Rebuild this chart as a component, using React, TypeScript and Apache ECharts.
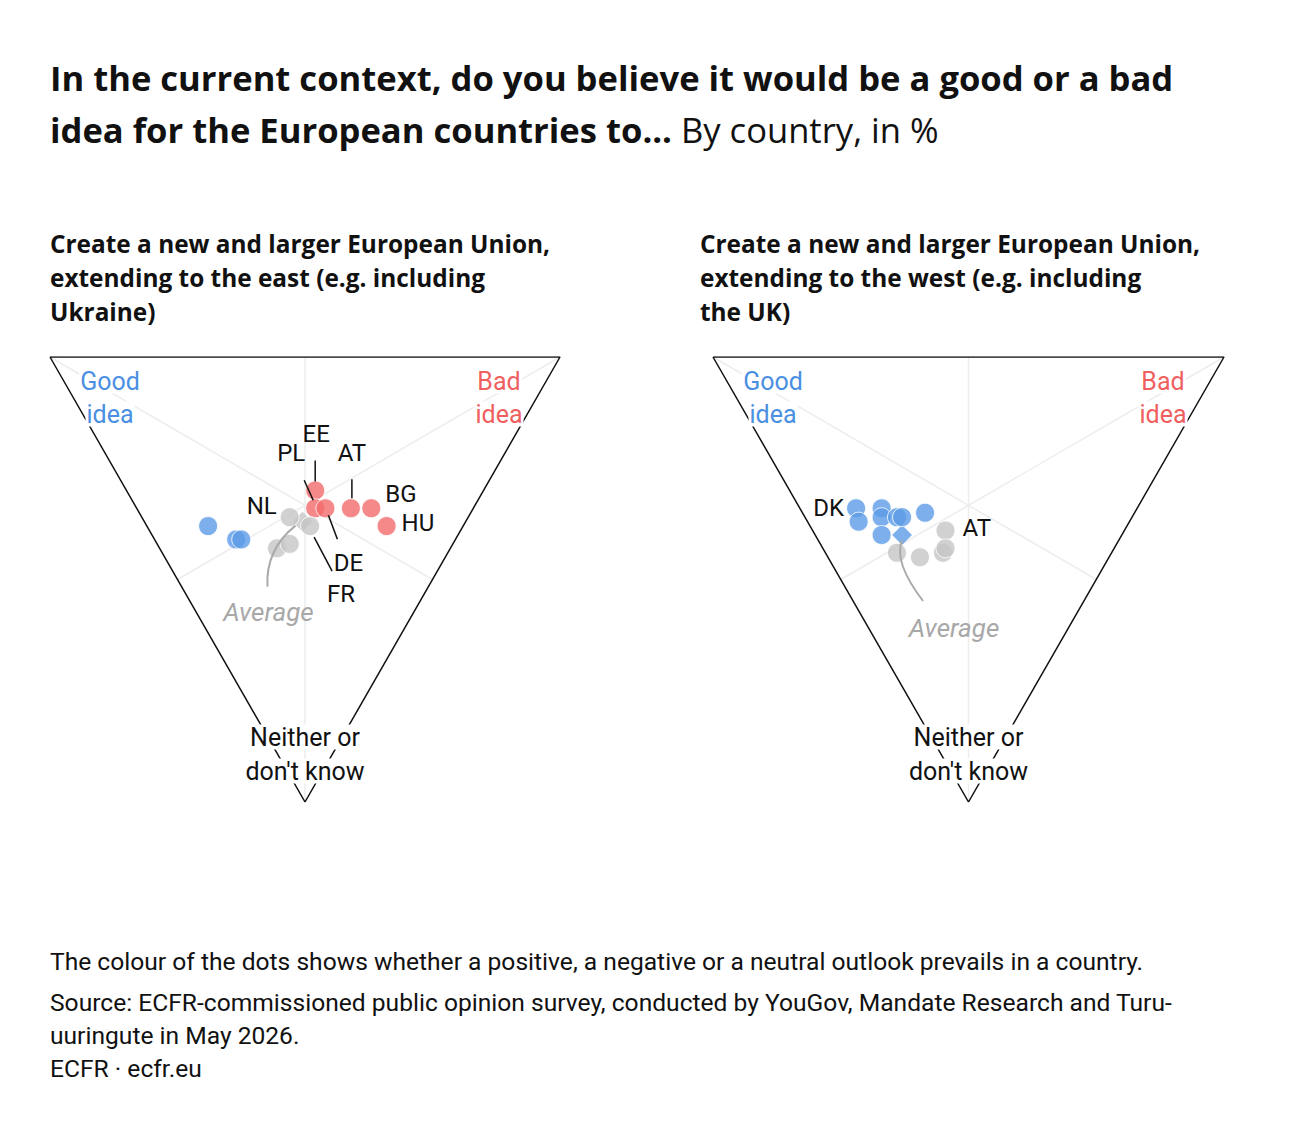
import React, { useEffect, useRef } from "react";
import * as echarts from "echarts";

// ---- Data (percent: good idea / bad idea / neither or don't know) ----
const countriesEast = ["DK", "PT", "ES", "EE", "PL", "DE", "AT", "BG", "HU", "NL", "FR", "IT", "RO"];
const goodEast = [50, 43, 42, 33, 31, 29, 24, 20, 15, 35, 30, 34, 32];
const badEast = [12, 16, 17, 37, 35, 37, 42, 46, 47, 29, 32, 23, 26];
const neitherEast = [38, 41, 41, 30, 34, 34, 34, 34, 38, 36, 38, 43, 42];
const averageEast = [32, 31, 37];

const countriesWest = ["DK", "ES", "PL", "EE", "NL", "DE", "HU", "PT", "AT", "IT", "FR", "BG", "RO"];
const goodWest = [55, 53, 50, 49, 46, 45, 41, 47, 35, 42, 37, 33, 33];
const badWest = [11, 10, 16, 15, 18, 19, 24, 13, 26, 14, 18, 23, 24];
const neitherWest = [34, 37, 34, 36, 36, 36, 35, 40, 39, 44, 45, 44, 43];
const averageWest = [43, 17, 40];

const axisGood = ["Good", "idea"];
const axisBad = ["Bad", "idea"];
const axisNeither = ["Neither or", "don't know"];

const titleLine1 = "In the current context, do you believe it would be a good or a bad";
const titleLine2 = "idea for the European countries to...";
const titleUnit = "By country, in %";
const subtitleEast = ["Create a new and larger European Union,", "extending to the east (e.g. including", "Ukraine)"];
const subtitleWest = ["Create a new and larger European Union,", "extending to the west (e.g. including", "the UK)"];
const noteText = "The colour of the dots shows whether a positive, a negative or a neutral outlook prevails in a country.";
const sourceText = [
  "Source: ECFR-commissioned public opinion survey, conducted by YouGov, Mandate Research and Turu-",
  "uuringute in May 2026.",
  "ECFR · ecfr.eu",
];

// ---- Styles ----
const BLUE = "#5b9be6";
const RED = "#f26b6b";
const GREY = "#c6c6c6";
const BLUE_TEXT = "#4a8fe2";
const RED_TEXT = "#ef5f5f";
const FONT = "'Open Sans', sans-serif";
const BODY_FONT = "Roboto, sans-serif";

const labelLayoutEast: Record<string, any> = {
  EE: { dx: 1, dy: -57, align: "center", line: [0, -30, 0, -9] },
  PL: { dx: -24, dy: -55, align: "center", line: [-11, -28, -2, -8] },
  AT: { dx: 1, dy: -55, align: "center", line: [1, -29, 1, -10] },
  BG: { dx: 14, dy: -14, align: "left" },
  HU: { dx: 15, dy: -3, align: "left" },
  NL: { dx: -13, dy: -11, align: "right" },
  DE: { dx: 23, dy: 55, align: "center", line: [3, 7, 12, 31] },
  FR: { dx: 31, dy: 68, align: "center", line: [4, 11, 22, 45] },
};
const labelLayoutWest: Record<string, any> = {
  DK: { dx: -12, dy: 0, align: "right" },
  AT: { dx: 17, dy: -3, align: "left" },
};
const avgLayoutEast = { start: [-7, 4], cp: [-37, 28], end: [-35, 65], text: [-34, 90] };
const avgLayoutWest = { start: [0, 5], cp: [-9, 27], end: [21, 66], text: [52, 93] };

function tern(g: number, b: number, n: number): [number, number] {
  const s = g + b + n;
  return [(b + n / 2) / s, (g + b) / s];
}
function prevailing(g: number, b: number, n: number) {
  if (g >= b && g >= n) return BLUE;
  if (b >= g && b >= n) return RED;
  return GREY;
}

function panelSeries(gi: number, countries: string[], good: number[], bad: number[], neither: number[], avg: number[]) {
  const Vg = tern(100, 0, 0), Vb = tern(0, 100, 0), Vn = tern(0, 0, 100);
  const Mbn = tern(0, 50, 50), Mgn = tern(50, 0, 50), Mgb = tern(50, 50, 0);
  const base = { type: "line", xAxisIndex: gi, yAxisIndex: gi, symbol: "none", silent: true };
  const median = { color: "#ededed", width: 1.5 };
  return [
    { ...base, data: [Vg, Mbn], lineStyle: median, z: 1 },
    { ...base, data: [Vb, Mgn], lineStyle: median, z: 1 },
    { ...base, data: [Vn, Mgb], lineStyle: median, z: 1 },
    { ...base, data: [Vg, Vb, Vn, Vg], lineStyle: { color: "#111", width: 1.5 }, z: 2 },
    {
      type: "scatter", xAxisIndex: gi, yAxisIndex: gi, z: 4, silent: true,
      symbol: "rect", symbolRotate: 45, symbolSize: 14,
      data: [{ name: "Average", value: tern(avg[0], avg[1], avg[2]), itemStyle: { color: prevailing(avg[0], avg[1], avg[2]) } }],
    },
    {
      type: "scatter", xAxisIndex: gi, yAxisIndex: gi, z: 5, silent: true,
      symbolSize: 19,
      itemStyle: { borderColor: "#fff", borderWidth: 1 },
      data: countries.map((c, i) => ({
        name: c,
        value: tern(good[i], bad[i], neither[i]),
        itemStyle: { color: prevailing(good[i], bad[i], neither[i]) },
      })),
    },
  ];
}

function txt(x: number, y: number, text: string, opts: any = {}) {
  return {
    type: "text", x, y, z: 100, silent: true,
    style: {
      text, fill: opts.fill || "#111",
      font: opts.font || `24px ${BODY_FONT}`,
      align: opts.align || "center", verticalAlign: opts.verticalAlign || "middle",
      backgroundColor: opts.box ? "#fff" : undefined,
      padding: opts.box ? [0, 1] : undefined,
    },
  };
}

function panelGraphics(chart: any, gi: number, countries: string[], good: number[], bad: number[], neither: number[], avg: number[], layout: Record<string, any>, avgLayout: any) {
  const els: any[] = [];
  const px = (v: [number, number]) => chart.convertToPixel({ gridIndex: gi }, v) as number[];
  countries.forEach((c, i) => {
    const L = layout[c];
    if (!L) return;
    const p = px(tern(good[i], bad[i], neither[i]));
    els.push(txt(p[0] + L.dx, p[1] + L.dy, c, { align: L.align, font: `24px ${BODY_FONT}` }));
    if (L.line) {
      els.push({
        type: "line", z: 100, silent: true,
        shape: { x1: p[0] + L.line[0], y1: p[1] + L.line[1], x2: p[0] + L.line[2], y2: p[1] + L.line[3] },
        style: { stroke: "#111", lineWidth: 1.5 },
      });
    }
  });
  const a = px(tern(avg[0], avg[1], avg[2]));
  els.push({
    type: "bezierCurve", z: 100, silent: true,
    shape: {
      x1: a[0] + avgLayout.start[0], y1: a[1] + avgLayout.start[1],
      cpx1: a[0] + avgLayout.cp[0], cpy1: a[1] + avgLayout.cp[1],
      x2: a[0] + avgLayout.end[0], y2: a[1] + avgLayout.end[1],
    },
    style: { stroke: "#aaaaaa", lineWidth: 2, fill: null },
  });
  els.push(txt(a[0] + avgLayout.text[0], a[1] + avgLayout.text[1], "Average", { fill: "#a8a8a8", font: `italic 26px ${BODY_FONT}` }));

  // Corner labels
  const Vg = px(tern(100, 0, 0)), Vb = px(tern(0, 100, 0)), Vn = px(tern(0, 0, 100));
  const cornerFont = `25px ${BODY_FONT}`;
  els.push(txt(Vg[0] + 60, Vg[1] + 24, axisGood[0], { fill: BLUE_TEXT, font: cornerFont, box: true }));
  els.push(txt(Vg[0] + 60, Vg[1] + 57, axisGood[1], { fill: BLUE_TEXT, font: cornerFont, box: true }));
  els.push(txt(Vb[0] - 61, Vb[1] + 24, axisBad[0], { fill: RED_TEXT, font: cornerFont, box: true }));
  els.push(txt(Vb[0] - 61, Vb[1] + 57, axisBad[1], { fill: RED_TEXT, font: cornerFont, box: true }));
  els.push(txt(Vn[0], Vn[1] - 65, axisNeither[0], { font: cornerFont, box: true }));
  els.push(txt(Vn[0], Vn[1] - 31, axisNeither[1], { font: cornerFont, box: true }));
  return els;
}

export default function App() {
  const ref = useRef<HTMLDivElement>(null);
  useEffect(() => {
    if (!ref.current) return;
    const chart = echarts.init(ref.current, undefined, { renderer: "svg" });
    const axisCommon = { type: "value", min: 0, max: 1, show: false, splitLine: { show: false } };
    chart.setOption({
      animation: false,
      grid: [
        { left: 50, top: 357, width: 510, height: 445 },
        { left: 713, top: 357, width: 511, height: 445 },
      ],
      xAxis: [{ ...axisCommon, gridIndex: 0 }, { ...axisCommon, gridIndex: 1 }],
      yAxis: [{ ...axisCommon, gridIndex: 0 }, { ...axisCommon, gridIndex: 1 }],
      series: [
        ...panelSeries(0, countriesEast, goodEast, badEast, neitherEast, averageEast),
        ...panelSeries(1, countriesWest, goodWest, badWest, neitherWest, averageWest),
      ],
    });

    const graphics: any[] = [
      ...panelGraphics(chart, 0, countriesEast, goodEast, badEast, neitherEast, averageEast, labelLayoutEast, avgLayoutEast),
      ...panelGraphics(chart, 1, countriesWest, goodWest, badWest, neitherWest, averageWest, labelLayoutWest, avgLayoutWest),
      {
        type: "text", x: 50, y: 51, z: 100, silent: true,
        style: {
          text: `{b|${titleLine1}}\n{b|${titleLine2}}{r| ${titleUnit}}`,
          verticalAlign: "top",
          rich: {
            b: { font: `bold 34.6px ${FONT}`, fill: "#111", lineHeight: 52 },
            r: { font: `34.6px ${FONT}`, fill: "#111", lineHeight: 52 },
          },
        },
      },
      {
        type: "text", x: 50, y: 226, z: 100, silent: true,
        style: { text: subtitleEast.join("\n"), font: `bold 24.4px ${FONT}`, fill: "#111", lineHeight: 34, verticalAlign: "top" },
      },
      {
        type: "text", x: 700, y: 226, z: 100, silent: true,
        style: { text: subtitleWest.join("\n"), font: `bold 24.4px ${FONT}`, fill: "#111", lineHeight: 34, verticalAlign: "top" },
      },
      {
        type: "text", x: 50, y: 945, z: 100, silent: true,
        style: { text: noteText, font: `24.6px ${BODY_FONT}`, fill: "#111", lineHeight: 32, verticalAlign: "top" },
      },
      {
        type: "text", x: 50, y: 985.5, z: 100, silent: true,
        style: { text: sourceText.join("\n"), font: `24.6px ${BODY_FONT}`, fill: "#111", lineHeight: 33, verticalAlign: "top" },
      },
    ];
    chart.setOption({ graphic: graphics });
    return () => chart.dispose();
  }, []);
  return (
    <div
      ref={ref}
      style={{ position: "fixed", left: 0, top: 0, width: 1300, height: 1134, background: "#fff" }}
    />
  );
}
